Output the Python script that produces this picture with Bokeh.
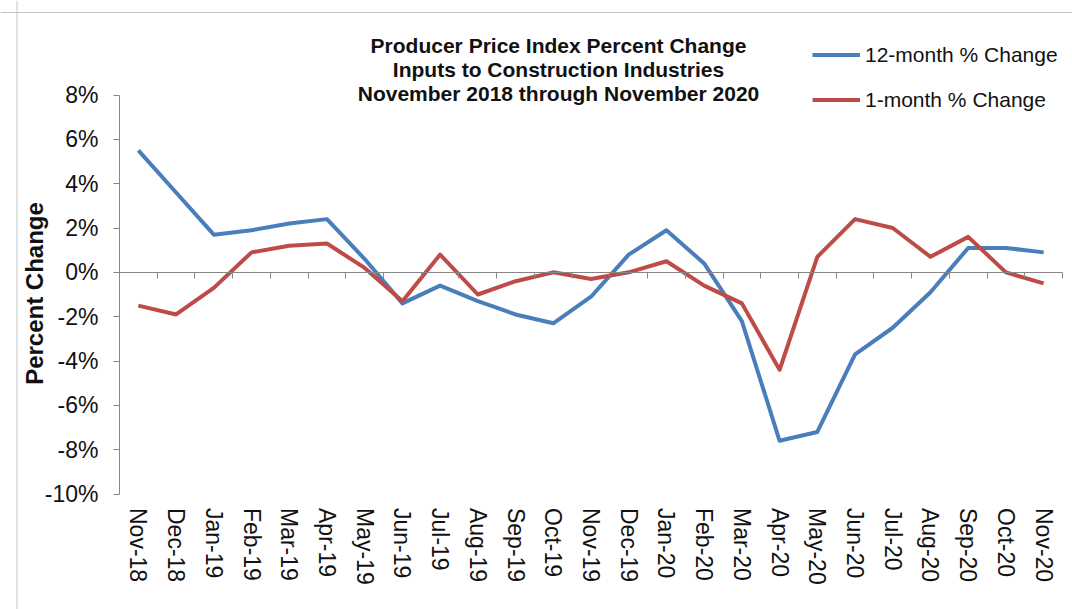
from bokeh.plotting import figure
from bokeh.models import (LinearAxis, FixedTicker, PrintfTickFormatter, Range1d,
                          Label, Legend, LegendItem, ColumnDataSource, Span)
from bokeh.embed import file_html
from bokeh.resources import INLINE

# ---- data ----
months = ["Nov-18", "Dec-18", "Jan-19", "Feb-19", "Mar-19", "Apr-19", "May-19",
          "Jun-19", "Jul-19", "Aug-19", "Sep-19", "Oct-19", "Nov-19", "Dec-19",
          "Jan-20", "Feb-20", "Mar-20", "Apr-20", "May-20", "Jun-20", "Jul-20",
          "Aug-20", "Sep-20", "Oct-20", "Nov-20"]
twelve_month = [5.5, 3.6, 1.7, 1.9, 2.2, 2.4, 0.6, -1.4, -0.6, -1.3, -1.9, -2.3,
                -1.1, 0.8, 1.9, 0.4, -2.2, -7.6, -7.2, -3.7, -2.5, -0.9, 1.1, 1.1, 0.9]
one_month = [-1.5, -1.9, -0.7, 0.9, 1.2, 1.3, 0.2, -1.3, 0.8, -1.0, -0.4, 0.0,
             -0.3, 0.0, 0.5, -0.6, -1.4, -4.4, 0.7, 2.4, 2.0, 0.7, 1.6, 0.0, -0.5]
series_names = ["12-month % Change", "1-month % Change"]
y_ticks = [-10, -8, -6, -4, -2, 0, 2, 4, 6, 8]
title_lines = ["Producer Price Index Percent Change",
               "Inputs to Construction Industries",
               "November 2018 through November 2020"]
y_title = "Percent Change"

FONT = "Liberation Sans"
BLUE = "#4A7EBB"
RED = "#BE4B48"
AXIS = "#868686"
TEXT = "#111111"

n = len(months)
idx = list(range(n))
src = ColumnDataSource(dict(x=idx, twelve=twelve_month, one=one_month))

# ---- canvas geometry (pixels within the canvas) ----
W, H = 1072, 609
AX_L, AX_R = 119, 1062         # y-axis line / right end of category axis
AX_T, AX_B = 94.5, 493.5       # top tick (max) / bottom tick (min)
ppc = (AX_R - AX_L) / n
ppu = (AX_B - AX_T) / (max(y_ticks) - min(y_ticks))
x_lo = -0.5 - AX_L / ppc
x_hi = (n - 0.5) + (W - AX_R) / ppc
y_hi = max(y_ticks) + AX_T / ppu
y_lo = min(y_ticks) - (H - AX_B) / ppu

p = figure(width=W, height=H,
           x_range=Range1d(x_lo, x_hi), y_range=Range1d(y_lo, y_hi),
           output_backend="svg", toolbar_location=None,
           x_axis_location=None, y_axis_location=None, min_border=0)
p.outline_line_color = None
p.background_fill_color = "white"
p.border_fill_color = "white"
p.xgrid.visible = False
p.ygrid.visible = False

# chart-area border (top and left edges)
p.add_layout(Span(location=y_hi - 12 / ppu, dimension="width",
                  line_color="#c4c4c4", line_width=1))
p.add_layout(Span(location=x_lo + 16.5 / ppc, dimension="height",
                  line_color="#c4c4c4", line_width=1))

# y axis
yaxis = LinearAxis(fixed_location=-0.5, bounds=(min(y_ticks), max(y_ticks)),
                   ticker=FixedTicker(ticks=y_ticks, minor_ticks=[]),
                   formatter=PrintfTickFormatter(format="%d%%"))
yaxis.axis_line_color = AXIS
yaxis.major_tick_line_color = AXIS
yaxis.major_tick_out = 6
yaxis.major_tick_in = 0
yaxis.minor_tick_line_color = None
yaxis.major_label_standoff = 15
yaxis.major_label_text_font = FONT
yaxis.major_label_text_font_size = "23px"
yaxis.major_label_text_color = TEXT
p.add_layout(yaxis, "left")

# month labels
xlab = LinearAxis(fixed_location=min(y_ticks),
                  ticker=FixedTicker(ticks=idx, minor_ticks=[]),
                  major_label_overrides={i: m for i, m in enumerate(months)},
                  major_label_orientation="vertical")
xlab.axis_line_color = None
xlab.major_tick_line_color = None
xlab.major_tick_out = 0
xlab.minor_tick_line_color = None
xlab.major_label_standoff = 14
xlab.major_label_text_font = FONT
xlab.major_label_text_font_size = "23px"
xlab.major_label_text_color = TEXT
p.add_layout(xlab, "below")

# zero line with ticks between categories
zaxis = LinearAxis(fixed_location=0, bounds=(-0.5, n - 0.5),
                   ticker=FixedTicker(ticks=[i + 0.5 for i in idx], minor_ticks=[]))
zaxis.axis_line_color = AXIS
zaxis.major_tick_line_color = AXIS
zaxis.major_tick_out = 6
zaxis.major_tick_in = 0
zaxis.minor_tick_line_color = None
zaxis.major_label_text_font_size = "0px"
zaxis.major_label_text_color = None
p.add_layout(zaxis, "below")

r1 = p.line("x", "twelve", source=src, line_color=BLUE, line_width=4, line_join="round")
r2 = p.line("x", "one", source=src, line_color=RED, line_width=4, line_join="round")

# legend (top right)
legend = Legend(items=[LegendItem(label=series_names[0], renderers=[r1]),
                       LegendItem(label=series_names[1], renderers=[r2])],
                location=(812, H - 111.5))
legend.border_line_color = None
legend.background_fill_alpha = 0
legend.padding = 0
legend.margin = 0
legend.spacing = 21
legend.glyph_width = 48
legend.glyph_height = 21
legend.label_height = 21
legend.label_standoff = 5
legend.label_text_font = FONT
legend.label_text_font_size = "21px"
legend.label_text_color = TEXT
p.add_layout(legend)

# title, three centred lines
for line, cy in zip(title_lines, [45, 69, 93]):
    p.add_layout(Label(x=558, y=H - cy, x_units="screen", y_units="screen", text=line,
                       text_align="center", text_baseline="middle",
                       text_font=FONT, text_font_style="bold",
                       text_font_size="21px", text_color=TEXT))

# y-axis title
p.add_layout(Label(x=34, y=H - 293, x_units="screen", y_units="screen", text=y_title,
                   angle=90, angle_units="deg",
                   text_align="center", text_baseline="middle",
                   text_font=FONT, text_font_style="bold",
                   text_font_size="24px", text_color=TEXT))

open("out.html", "w").write(file_html(p, INLINE))
